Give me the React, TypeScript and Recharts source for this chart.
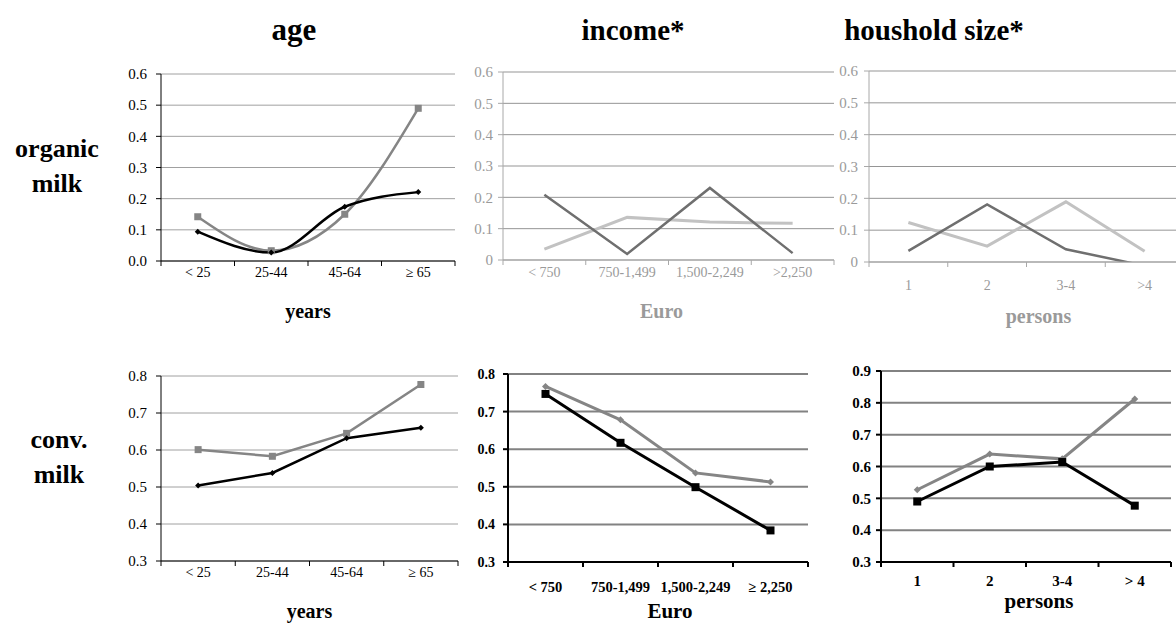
import React from 'react';
import { LineChart, Line, XAxis, YAxis, CartesianGrid } from 'recharts';

// ---------- categories ----------
const ageCats = ['< 25', '25-44', '45-64', '≥ 65'];
const incomeCatsTop = ['< 750', '750-1,499', '1,500-2,249', '>2,250'];
const incomeCatsBottom = ['< 750', '750-1,499', '1,500-2,249', '≥ 2,250'];
const hhCatsTop = ['1', '2', '3-4', '>4'];
const hhCatsBottom = ['1', '2', '3-4', '> 4'];

// ---------- series values ----------
const organicAgeBlack = [0.094, 0.027, 0.174, 0.221];
const organicAgeGray = [0.142, 0.033, 0.15, 0.49];
const organicIncomeDark = [0.208, 0.019, 0.23, 0.022];
const organicIncomeLight = [0.035, 0.136, 0.121, 0.117];
const organicHhDark = [0.035, 0.181, 0.04, -0.012];
const organicHhLight = [0.124, 0.05, 0.189, 0.034];
const convAgeBlack = [0.504, 0.538, 0.632, 0.66];
const convAgeGray = [0.601, 0.583, 0.645, 0.777];
const convIncomeBlack = [0.747, 0.617, 0.499, 0.384];
const convIncomeGray = [0.767, 0.678, 0.537, 0.513];
const convHhBlack = [0.49, 0.6, 0.614, 0.477];
const convHhGray = [0.527, 0.639, 0.624, 0.812];

// ---------- tick labels ----------
const ticksOrganic = [0, 0.1, 0.2, 0.3, 0.4, 0.5, 0.6];
const ticksConv = [0.3, 0.4, 0.5, 0.6, 0.7, 0.8];
const ticksConvHh = [0.3, 0.4, 0.5, 0.6, 0.7, 0.8, 0.9];

const FONT = '"Liberation Serif", "Times New Roman", serif';

const build = (cats: string[], a: number[], b: number[]) =>
  cats.map((c, i) => ({ cat: c, a: a[i], b: b[i] }));

const diamond = (color: string, r: number) => (p: any) => {
  if (p.cx == null || p.cy == null) return <g key={p.key ?? p.index} />;
  const { cx, cy } = p;
  return (
    <path
      key={p.key ?? p.index}
      d={`M${cx},${cy - r}L${cx + r},${cy}L${cx},${cy + r}L${cx - r},${cy}Z`}
      fill={color}
    />
  );
};
const square = (color: string, s: number) => (p: any) => {
  if (p.cx == null || p.cy == null) return <g key={p.key ?? p.index} />;
  return <rect key={p.key ?? p.index} x={p.cx - s / 2} y={p.cy - s / 2} width={s} height={s} fill={color} />;
};

type Series = { key: 'a' | 'b'; color: string; width: number; type: 'linear' | 'monotone'; dot: any };

type PanelProps = {
  left: number; top: number; yw: number; mt: number; mr: number; plotW: number; plotH: number;
  cats: string[]; a: number[]; b: number[]; series: Series[];
  domain: [number, number]; ticks: number[]; fmt: (v: number) => string;
  axisColor: string; axisWidth: number; gridColor: string; gridWidth: number;
  tickColor: string; tickSize: number; yTickSize: number; tickWeight: string | number; yGap: number;
  xLabelDy: number; title: string; titleDy: number; titleDx: number; titleColor: string; titleSize: number;
};

const Panel = (P: PanelProps) => {
  const n = P.cats.length;
  const band = P.plotW / n;
  const data = build(P.cats, P.a, P.b);
  const axisH = 72;
  const width = P.yw + P.plotW + P.mr;
  const height = P.mt + P.plotH + axisH;
  const XTick = (p: any) => {
    const idx = p.index ?? p.payload?.index ?? 0;
    const x = p.x;
    const y = p.y;
    return (
      <g>
        <line x1={x - band / 2} x2={x - band / 2} y1={y} y2={y + 5} stroke={P.axisColor} strokeWidth={P.axisWidth} />
        {idx === n - 1 && (
          <line x1={x + band / 2} x2={x + band / 2} y1={y} y2={y + 5} stroke={P.axisColor} strokeWidth={P.axisWidth} />
        )}
        <text x={x} y={y + P.xLabelDy} textAnchor="middle" fill={P.tickColor} fontSize={P.tickSize}
          fontWeight={P.tickWeight} fontFamily={FONT}>
          {p.payload.value}
        </text>
      </g>
    );
  };
  const TitleLabel = (p: any) => {
    const vb = p.viewBox || {};
    return (
      <text x={vb.x + vb.width / 2 + P.titleDx} y={vb.y + P.titleDy} textAnchor="middle" fill={P.titleColor}
        fontSize={P.titleSize} fontWeight="bold" fontFamily={FONT}>
        {P.title}
      </text>
    );
  };
  return (
    <div style={{ position: 'absolute', left: P.left, top: P.top }}>
      <LineChart width={width} height={height} data={data} margin={{ top: P.mt, right: P.mr, left: 0, bottom: 0 }}>
        <CartesianGrid vertical={false} stroke={P.gridColor} strokeWidth={P.gridWidth} />
        <XAxis
          dataKey="cat"
          height={axisH}
          interval={0}
          padding={{ left: band / 2, right: band / 2 }}
          axisLine={{ stroke: P.axisColor, strokeWidth: P.axisWidth }}
          tickLine={false}
          tickSize={0}
          tickMargin={0}
          tick={XTick}
          label={<TitleLabel />}
        />
        <YAxis
          width={P.yw}
          domain={P.domain}
          ticks={P.ticks}
          interval={0}
          allowDataOverflow
          tickFormatter={P.fmt}
          axisLine={{ stroke: P.axisColor, strokeWidth: P.axisWidth }}
          tickLine={{ stroke: P.axisColor, strokeWidth: P.axisWidth }}
          tickSize={5}
          tickMargin={P.yGap - 5}
          tick={{ fill: P.tickColor, fontSize: P.yTickSize, fontWeight: P.tickWeight, fontFamily: FONT }}
        />
        {P.series.map((s) => (
          <Line
            key={s.key}
            dataKey={s.key}
            type={s.type}
            stroke={s.color}
            strokeWidth={s.width}
            dot={s.dot || false}
            activeDot={false}
            isAnimationActive={false}
          />
        ))}
      </LineChart>
    </div>
  );
};

const fmt1 = (v: number) => v.toFixed(1);
const fmt0 = (v: number) => (v === 0 ? '0' : v.toFixed(1));

const BLACK = '#000000';
const GRAY = '#858585';
const DARK = '#6f6f6f';
const LIGHT = '#c2c2c2';
const FADED = '#9a9a9a';

export default function App() {
  return (
    <div style={{ position: 'absolute', left: 0, top: 0, width: 1176, height: 624, overflow: 'hidden', background: '#fff', fontFamily: FONT }}>
      <svg width={1176} height={624} style={{ position: 'absolute', left: 0, top: 0 }}>
        <g fontFamily={FONT} fontWeight="bold" fill="#000" textAnchor="middle">
          <text x={294} y={40} fontSize={31}>age</text>
          <text x={633} y={40} fontSize={29}>income*</text>
          <text x={934} y={40} fontSize={29}>houshold size*</text>
          <text x={57} y={157} fontSize={26}>organic</text>
          <text x={57} y={192} fontSize={26}>milk</text>
          <text x={59} y={448} fontSize={26}>conv.</text>
          <text x={59} y={483} fontSize={26}>milk</text>
        </g>
      </svg>

      {/* organic milk / age */}
      <Panel left={100} top={60} yw={61} mt={14} mr={2} plotW={294} plotH={187}
        cats={ageCats} a={organicAgeBlack} b={organicAgeGray}
        series={[
          { key: 'b', color: GRAY, width: 2.5, type: 'monotone', dot: square(GRAY, 7) },
          { key: 'a', color: BLACK, width: 2.5, type: 'monotone', dot: diamond(BLACK, 3) },
        ]}
        domain={[0, 0.6]} ticks={ticksOrganic} fmt={fmt1}
        axisColor={BLACK} axisWidth={1} gridColor="#a0a0a0" gridWidth={1}
        tickColor={BLACK} tickSize={14} yTickSize={15} tickWeight="normal" yGap={14}
        xLabelDy={16} title="years" titleDy={57} titleDx={0} titleColor={BLACK} titleSize={20} />

      {/* organic milk / income */}
      <Panel left={440} top={60} yw={63} mt={12} mr={1} plotW={331} plotH={188}
        cats={incomeCatsTop} a={organicIncomeDark} b={organicIncomeLight}
        series={[
          { key: 'b', color: LIGHT, width: 3, type: 'linear', dot: null },
          { key: 'a', color: DARK, width: 2.5, type: 'linear', dot: null },
        ]}
        domain={[0, 0.6]} ticks={ticksOrganic} fmt={fmt0}
        axisColor="#a8a8a8" axisWidth={1} gridColor="#959595" gridWidth={1}
        tickColor={FADED} tickSize={14} yTickSize={15} tickWeight="normal" yGap={10}
        xLabelDy={17} title="Euro" titleDy={58} titleDx={-7} titleColor={FADED} titleSize={20} />

      {/* organic milk / household size */}
      <Panel left={820} top={60} yw={49} mt={11} mr={0} plotW={315} plotH={191}
        cats={hhCatsTop} a={organicHhDark} b={organicHhLight}
        series={[
          { key: 'b', color: LIGHT, width: 3, type: 'linear', dot: null },
          { key: 'a', color: DARK, width: 2.5, type: 'linear', dot: null },
        ]}
        domain={[0, 0.6]} ticks={ticksOrganic} fmt={fmt0}
        axisColor="#a8a8a8" axisWidth={1} gridColor="#959595" gridWidth={1}
        tickColor={FADED} tickSize={14} yTickSize={15} tickWeight="normal" yGap={11}
        xLabelDy={28} title="persons" titleDy={61} titleDx={12} titleColor={FADED} titleSize={20} />

      {/* conv. milk / age */}
      <Panel left={100} top={360} yw={61} mt={16} mr={2} plotW={297} plotH={185}
        cats={ageCats} a={convAgeBlack} b={convAgeGray}
        series={[
          { key: 'b', color: GRAY, width: 2.5, type: 'linear', dot: square(GRAY, 7) },
          { key: 'a', color: BLACK, width: 2.5, type: 'linear', dot: diamond(BLACK, 3) },
        ]}
        domain={[0.3, 0.8]} ticks={ticksConv} fmt={fmt1}
        axisColor={BLACK} axisWidth={1} gridColor="#a0a0a0" gridWidth={1}
        tickColor={BLACK} tickSize={14} yTickSize={15} tickWeight="normal" yGap={14}
        xLabelDy={16} title="years" titleDy={57} titleDx={0} titleColor={BLACK} titleSize={20} />

      {/* conv. milk / income */}
      <Panel left={440} top={360} yw={68} mt={14} mr={4} plotW={300} plotH={188}
        cats={incomeCatsBottom} a={convIncomeBlack} b={convIncomeGray}
        series={[
          { key: 'b', color: GRAY, width: 3, type: 'linear', dot: diamond(GRAY, 3.5) },
          { key: 'a', color: BLACK, width: 3, type: 'linear', dot: square(BLACK, 8) },
        ]}
        domain={[0.3, 0.8]} ticks={ticksConv} fmt={fmt1}
        axisColor={BLACK} axisWidth={2} gridColor="#828282" gridWidth={2}
        tickColor={BLACK} tickSize={14.5} yTickSize={14} tickWeight="bold" yGap={13}
        xLabelDy={30} title="Euro" titleDy={56} titleDx={12} titleColor={BLACK} titleSize={21} />

      {/* conv. milk / household size */}
      <Panel left={820} top={360} yw={61} mt={11} mr={4} plotW={290} plotH={191}
        cats={hhCatsBottom} a={convHhBlack} b={convHhGray}
        series={[
          { key: 'b', color: GRAY, width: 3, type: 'linear', dot: diamond(GRAY, 3.5) },
          { key: 'a', color: BLACK, width: 3, type: 'linear', dot: square(BLACK, 8) },
        ]}
        domain={[0.3, 0.9]} ticks={ticksConvHh} fmt={fmt1}
        axisColor={BLACK} axisWidth={2} gridColor="#828282" gridWidth={2}
        tickColor={BLACK} tickSize={15} yTickSize={15} tickWeight="bold" yGap={10}
        xLabelDy={24} title="persons" titleDy={46} titleDx={13} titleColor={BLACK} titleSize={21} />
    </div>
  );
}
